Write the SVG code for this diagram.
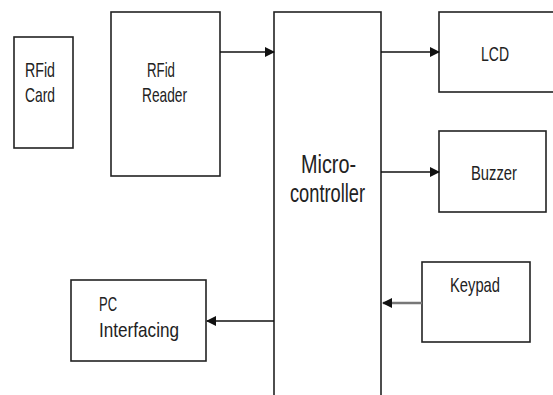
<svg xmlns="http://www.w3.org/2000/svg" width="553" height="395" viewBox="0 0 553 395">
<style>
.n{fill:#fff;stroke:#222;stroke-width:1.6}
text{font-family:"Liberation Sans",Arial,sans-serif;font-size:21px;fill:#222}
.big{font-size:25px}
.c{stroke:#111;stroke-width:1.6;fill:none}
.g{stroke:#777;stroke-width:2.5;fill:none}
</style>
<defs>
<marker id="ah" markerWidth="10" markerHeight="10" refX="9" refY="5" orient="auto" markerUnits="userSpaceOnUse">
<path d="M0,0 L10,5 L0,10 z" fill="#111"/>
</marker>
</defs>
<rect width="553" height="395" fill="#fff"/>
<g id="rfid-card"><rect class="n" x="14" y="37" width="59" height="111"/>
<text x="25" y="77" textLength="30" lengthAdjust="spacingAndGlyphs">RFid</text>
<text x="25" y="102" textLength="30" lengthAdjust="spacingAndGlyphs">Card</text></g>
<g id="rfid-reader"><rect class="n" x="111" y="12" width="109" height="164"/>
<text x="147" y="77" textLength="28" lengthAdjust="spacingAndGlyphs">RFid</text>
<text x="142" y="102" textLength="45" lengthAdjust="spacingAndGlyphs">Reader</text></g>
<g id="microcontroller"><rect class="n" x="274" y="12" width="107" height="400"/>
<text class="big" x="301" y="173" textLength="55" lengthAdjust="spacingAndGlyphs">Micro-</text>
<text class="big" x="290" y="202" textLength="75" lengthAdjust="spacingAndGlyphs">controller</text></g>
<g id="lcd"><rect class="n" x="439" y="12" width="130" height="80"/>
<text x="481" y="61" textLength="28" lengthAdjust="spacingAndGlyphs">LCD</text></g>
<g id="buzzer"><rect class="n" x="439" y="131" width="107" height="81"/>
<text x="471" y="180" textLength="46" lengthAdjust="spacingAndGlyphs">Buzzer</text></g>
<g id="keypad"><rect class="n" x="422" y="262" width="108" height="80"/>
<text x="450" y="292" textLength="50" lengthAdjust="spacingAndGlyphs">Keypad</text></g>
<g id="pc-interfacing"><rect class="n" x="71" y="280" width="135" height="81"/>
<text x="99" y="311" textLength="18" lengthAdjust="spacingAndGlyphs">PC</text>
<text x="99" y="337" textLength="80" lengthAdjust="spacingAndGlyphs">Interfacing</text></g>
<g id="connectors">
<line class="c" x1="220" y1="52" x2="274" y2="52" marker-end="url(#ah)"/>
<line class="c" x1="381" y1="52" x2="439" y2="52" marker-end="url(#ah)"/>
<line class="c" x1="381" y1="172" x2="439" y2="172" marker-end="url(#ah)"/>
<line class="g" x1="422" y1="303" x2="383" y2="303" marker-end="url(#ah)"/>
<line class="c" x1="274" y1="321" x2="207" y2="321" marker-end="url(#ah)"/>
</g>
</svg>
